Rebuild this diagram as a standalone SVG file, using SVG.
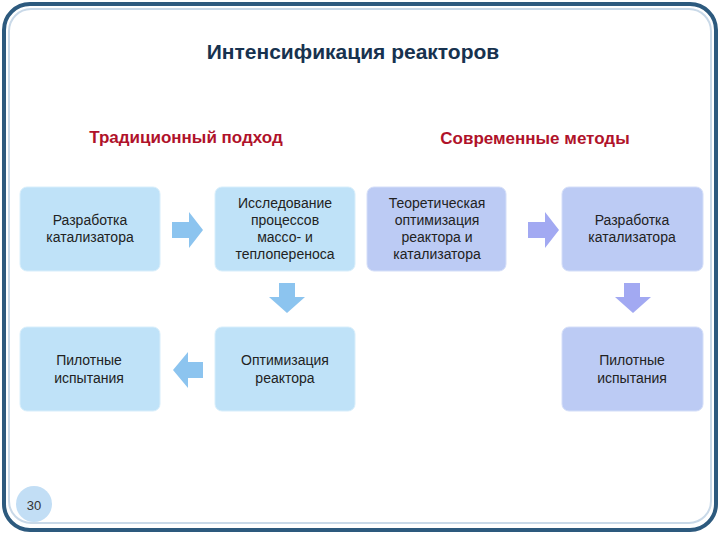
<svg xmlns="http://www.w3.org/2000/svg" width="720" height="540" viewBox="0 0 720 540">
<style>
.t{font-family:"Liberation Sans",Arial,sans-serif;font-size:14px;fill:#222;text-anchor:middle}
.h{font-family:"Liberation Sans",Arial,sans-serif;font-size:17px;font-weight:bold;fill:#b0122a;text-anchor:middle}
.b{fill:#bfe2f8;stroke:#d8eefb;stroke-width:1}
.p{fill:#bccbf4;stroke:#d4def8;stroke-width:1}
.ab{fill:#8cc4ef}
.ap{fill:#a2a9f2}
</style>
<rect x="0" y="0" width="720" height="540" fill="#fff"/>
<rect x="4" y="4" width="712" height="526" rx="26" fill="#fff" stroke="#2d5a7e" stroke-width="4"/>
<rect x="9" y="9" width="702" height="514" rx="22" fill="none" stroke="#c9d9e8" stroke-width="2"/>
<text x="353" y="59" style="font-family:'Liberation Sans',Arial,sans-serif;font-size:21px;font-weight:bold;fill:#17324f;text-anchor:middle">Интенсификация  реакторов</text>
<text class="h" x="186" y="143">Традиционный подход</text>
<text class="h" x="535" y="144">Современные методы</text>
<g id="n1"><rect class="b" x="20" y="187" width="140" height="84" rx="7"/><text class="t" x="90" y="225">Разработка</text><text class="t" x="90" y="242">катализатора</text></g>
<g id="n2"><rect class="b" x="215" y="187" width="140" height="84" rx="7"/><text class="t" x="285" y="208">Исследование</text><text class="t" x="285" y="225">процессов</text><text class="t" x="285" y="242">массо- и</text><text class="t" x="285" y="259">теплопереноса</text></g>
<g id="n3"><rect class="p" x="367" y="187" width="139" height="84" rx="7"/><text class="t" x="437" y="208">Теоретическая</text><text class="t" x="437" y="225">оптимизация</text><text class="t" x="437" y="242">реактора и</text><text class="t" x="437" y="259">катализатора</text></g>
<g id="n4"><rect class="p" x="562" y="187" width="141" height="84" rx="7"/><text class="t" x="632" y="225">Разработка</text><text class="t" x="632" y="242">катализатора</text></g>
<g id="n5"><rect class="b" x="20" y="327" width="140" height="84" rx="7"/><text class="t" x="89" y="365">Пилотные</text><text class="t" x="89" y="383">испытания</text></g>
<g id="n6"><rect class="b" x="215" y="327" width="140" height="84" rx="7"/><text class="t" x="285" y="365">Оптимизация</text><text class="t" x="285" y="383">реактора</text></g>
<g id="n7"><rect class="p" x="562" y="327" width="141" height="84" rx="7"/><text class="t" x="632" y="365">Пилотные</text><text class="t" x="632" y="383">испытания</text></g>
<g id="connectors">
<polygon class="ab" points="172,222 189,222 189,212 203,230 189,248 189,238 172,238"/>
<polygon class="ap" points="528,222 545,222 545,212 559,230 545,248 545,238 528,238"/>
<polygon class="ab" points="279,283 295,283 295,297 305,297 287,313 269,297 279,297"/>
<polygon class="ap" points="624,283 640,283 640,297 651,297 633,313 615,297 624,297"/>
<polygon class="ab" points="203,362 188,362 188,352 173,370 188,388 188,378 203,378"/>
</g>
<ellipse cx="34" cy="504" rx="18" ry="18" fill="#c2def5"/>
<text x="34" y="510" style="font-family:'Liberation Sans',Arial,sans-serif;font-size:13px;fill:#333;text-anchor:middle">30</text>
</svg>
